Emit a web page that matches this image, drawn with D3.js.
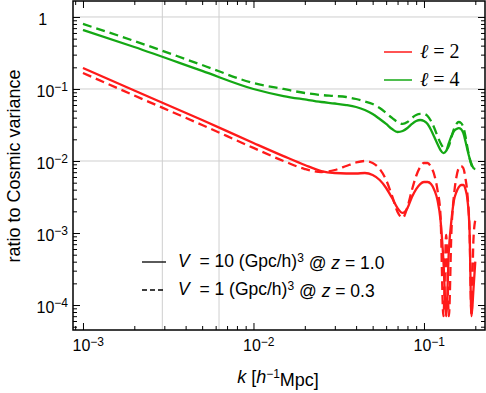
<!DOCTYPE html>
<html>
<head>
<meta charset="utf-8">
<script src="https://cdn.jsdelivr.net/npm/d3@7"></script>
<style>
  body { margin: 0; background: #fff; }
  svg { display: block; font-family: "Liberation Sans", Arial, sans-serif; }
  .axis path.domain { display: none; }
  .axis line { stroke: #000; stroke-width: 1; }
</style>
</head>
<body>
<svg width="486" height="393"></svg>
<script>
// wavenumbers k [h/Mpc]
var kVals = [0.001, 0.002, 0.005, 0.01, 0.015, 0.02, 0.025, 0.03, 0.035, 0.04,
  0.045, 0.05, 0.055, 0.06, 0.065, 0.07, 0.075, 0.08, 0.085, 0.09, 0.095, 0.1,
  0.105, 0.11, 0.115, 0.12, 0.125, 0.13, 0.135, 0.14, 0.145, 0.15, 0.155, 0.16,
  0.165, 0.17, 0.175, 0.18, 0.185, 0.19, 0.195, 0.2];

// l = 2, V = 10 (Gpc/h)^3 @ z = 1.0
var redSolid = [0.1957, 0.0953, 0.0371, 0.0178, 0.0117, 0.0088, 0.00726, 0.00681,
  0.00671, 0.00671, 0.00681, 0.00639, 0.00545, 0.00422, 0.00306, 0.00222, 0.0019,
  0.00222, 0.00316, 0.00408, 0.00479, 0.00511, 0.00511, 0.00479, 0.00396, 0.00287,
  0.00152, 0.00042, 0.00007, 0.00058, 0.00152, 0.00287, 0.00371, 0.00435, 0.00464,
  0.00464, 0.00408, 0.00287, 0.0011, 0.00007, 0.000162, 0.0004];
// l = 2, V = 1 (Gpc/h)^3 @ z = 0.3
var redDashed = [0.1668, 0.0812, 0.0316, 0.0152, 0.01, 0.00774, 0.00703, 0.0075,
  0.00852, 0.00953, 0.01, 0.00938, 0.00774, 0.00545, 0.00327, 0.00196, 0.00162,
  0.0023, 0.00396, 0.00619, 0.00825, 0.00938, 0.00938, 0.00825, 0.00639, 0.00396,
  0.00178, 0.00007, 0.00094, 0.00007, 0.0011, 0.00337, 0.00599, 0.00799, 0.00852,
  0.00799, 0.00581, 0.00337, 0.0011, 0.00007, 0.0008, 0.00152];
// l = 4, V = 10 (Gpc/h)^3 @ z = 1.0
var greenSolid = [0.66, 0.383, 0.1783, 0.1, 0.0799, 0.0715, 0.066, 0.0629, 0.0599,
  0.0562, 0.0511, 0.045, 0.0383, 0.0327, 0.0278, 0.0253, 0.0261, 0.0287, 0.0327,
  0.0359, 0.0371, 0.0359, 0.0327, 0.027, 0.0215, 0.0172, 0.0142, 0.0129, 0.0138,
  0.0178, 0.0222, 0.0261, 0.0278, 0.0287, 0.0278, 0.0245, 0.019, 0.0142, 0.011,
  0.00909, 0.00799, 0.00774];
// l = 4, V = 1 (Gpc/h)^3 @ z = 0.3
var greenDashed = [0.8, 0.464, 0.2154, 0.1211, 0.1, 0.088, 0.0825, 0.0799, 0.0774,
  0.0726, 0.0671, 0.0619, 0.0545, 0.0464, 0.0396, 0.0348, 0.0327, 0.0348, 0.0396,
  0.0435, 0.045, 0.045, 0.0422, 0.0359, 0.0287, 0.0222, 0.0178, 0.0152, 0.0142,
  0.0162, 0.0215, 0.0278, 0.0327, 0.0348, 0.0337, 0.0297, 0.0222, 0.0152, 0.011,
  0.0088, 0.00799, 0.0077];

var xMajor = [0.001, 0.01, 0.1];
var xExp = [-3, -2, -1];
var yMajor = [1, 0.1, 0.01, 0.001, 0.0001];
var yExp = [0, -1, -2, -3, -4];
// fundamental modes 2pi/L of the two survey volumes
var gridK = [0.00292, 0.00628];
var gridR = [1, 0.1, 0.01];

var RED = "#ff1a1a", GREEN = "#14a814";

var series = [
  {values: greenDashed, color: GREEN, dash: "9,5"},
  {values: greenSolid, color: GREEN, dash: null},
  {values: redDashed, color: RED, dash: "9,5"},
  {values: redSolid, color: RED, dash: null}
];

var mL = 73, mR = 485, mT = 1, mB = 330;

var svg = d3.select("svg");

var x = d3.scaleLog().domain([0.000874, 0.228]).range([mL, mR]);
var y = d3.scaleLog().domain([1.667, 4.5e-5]).range([mT, mB]);

function minors(lo, hi) {
  var out = [];
  for (var e = lo; e <= hi; e++)
    for (var m = 2; m <= 9; m++) out.push(m * Math.pow(10, e));
  return out;
}
var xMinor = minors(-4, -1).filter(v => v > 0.000874 && v < 0.228);
var yMinor = minors(-5, 0).filter(v => v > 4.5e-5 && v < 1.667);

svg.append("clipPath").attr("id", "clip")
  .append("rect").attr("x", mL).attr("y", mT)
  .attr("width", mR - mL).attr("height", mB - mT);

// grid
var grid = svg.append("g").attr("stroke", "#cfcfcf").attr("stroke-width", 1);
grid.selectAll(".gx").data(gridK).enter().append("line")
  .attr("x1", d => x(d)).attr("x2", d => x(d))
  .attr("y1", mT).attr("y2", mB);
grid.selectAll(".gy").data(gridR).enter().append("line")
  .attr("x1", mL).attr("x2", mR)
  .attr("y1", d => y(d)).attr("y2", d => y(d));

// curves
var line = d3.line()
  .x((d, i) => x(kVals[i]))
  .y(d => y(d))
  .curve(d3.curveMonotoneX);

svg.append("g").attr("clip-path", "url(#clip)")
  .selectAll("path").data(series).enter().append("path")
  .attr("d", d => line(d.values))
  .attr("fill", "none")
  .attr("stroke", d => d.color)
  .attr("stroke-width", 2.3)
  .attr("stroke-dasharray", d => d.dash);

// axes, ticks pointing inward
function sup(sel, exps) {
  sel.selectAll("text").each(function(d, i) {
    var t = d3.select(this).text(null);
    var e = exps[i];
    if (e === 0) { t.text("1"); return; }
    t.append("tspan").text("10");
    t.append("tspan").attr("dy", "-0.45em").attr("font-size", "12px").text("\u2212" + (-e));
  });
}

var gx = svg.append("g").attr("class", "axis").attr("transform", "translate(0," + mB + ")")
  .call(d3.axisBottom(x).tickValues(xMajor).tickSize(-7).tickPadding(10));
gx.selectAll("text").attr("font-size", "16px").attr("font-family", "Liberation Sans, Arial, sans-serif");
sup(gx, xExp);
gx.selectAll("text").attr("dx", "0.3em");
svg.append("g").attr("class", "axis").attr("transform", "translate(0," + mB + ")")
  .call(d3.axisBottom(x).tickValues(xMinor).tickSize(-4).tickFormat(""));
svg.append("g").attr("class", "axis").attr("transform", "translate(0," + mT + ")")
  .call(d3.axisTop(x).tickValues(xMajor).tickSize(-7).tickFormat(""));
svg.append("g").attr("class", "axis").attr("transform", "translate(0," + mT + ")")
  .call(d3.axisTop(x).tickValues(xMinor).tickSize(-4).tickFormat(""));

var gy = svg.append("g").attr("class", "axis").attr("transform", "translate(" + mL + ",0)")
  .call(d3.axisLeft(y).tickValues(yMajor).tickSize(-7).tickPadding(5));
gy.selectAll("text").attr("font-size", "16px").attr("font-family", "Liberation Sans, Arial, sans-serif");
sup(gy, yExp);
gy.selectAll("text").attr("dy", "0.45em");
gy.selectAll("text").filter((d, i) => yExp[i] === 0).attr("dx", "-1.3em");
svg.append("g").attr("class", "axis").attr("transform", "translate(" + mL + ",0)")
  .call(d3.axisLeft(y).tickValues(yMinor).tickSize(-4).tickFormat(""));
svg.append("g").attr("class", "axis").attr("transform", "translate(" + mR + ",0)")
  .call(d3.axisRight(y).tickValues(yMajor).tickSize(-7).tickFormat(""));
svg.append("g").attr("class", "axis").attr("transform", "translate(" + mR + ",0)")
  .call(d3.axisRight(y).tickValues(yMinor).tickSize(-4).tickFormat(""));

// frame
svg.append("rect").attr("x", mL).attr("y", mT)
  .attr("width", mR - mL).attr("height", mB - mT)
  .attr("fill", "none").attr("stroke", "#000").attr("stroke-width", 1.5);

// axis titles
var xt = svg.append("text").attr("x", 278).attr("y", 383)
  .attr("text-anchor", "middle").attr("font-size", "18px");
xt.append("tspan").attr("font-style", "italic").text("k");
xt.append("tspan").text(" [");
xt.append("tspan").attr("font-style", "italic").text("h");
xt.append("tspan").attr("dy", "-0.45em").attr("font-size", "12px").text("\u22121");
xt.append("tspan").attr("dy", "0.45em").text("Mpc]");

svg.append("text").attr("transform", "translate(20,166) rotate(-90)")
  .attr("text-anchor", "middle").attr("font-size", "18px")
  .text("ratio to Cosmic variance");

// multipole legend
var ellLegend = [{label: "2", color: RED}, {label: "4", color: GREEN}];
var lg = svg.append("g");
ellLegend.forEach(function(d, i) {
  var yy = 52 + i * 28;
  lg.append("line").attr("x1", 384).attr("x2", 412).attr("y1", yy).attr("y2", yy)
    .attr("stroke", d.color).attr("stroke-width", 1.5);
  var t = lg.append("text").attr("x", 420).attr("y", yy + 6)
    .attr("font-family", "Liberation Serif, serif").attr("font-size", "20px");
  t.append("tspan").attr("font-style", "italic").text("\u2113");
  t.append("tspan").text(" = " + d.label);
});

// volume legend
var volLegend = [
  {vol: "10", z: "1.0", dash: null},
  {vol: "1", z: "0.3", dash: "5,3"}
];
volLegend.forEach(function(d, i) {
  var yy = 262 + i * 28;
  lg.append("line").attr("x1", 142).attr("x2", 166).attr("y1", yy).attr("y2", yy)
    .attr("stroke", "#000").attr("stroke-width", 1.3).attr("stroke-dasharray", d.dash);
  var t = lg.append("text").attr("x", 178).attr("y", yy + 5).attr("font-size", "17.5px");
  t.append("tspan").attr("font-style", "italic").text("V");
  t.append("tspan").text("\u00a0 = " + d.vol + " (Gpc/h)");
  t.append("tspan").attr("dy", "-0.45em").attr("font-size", "12px").text("3");
  t.append("tspan").attr("dy", "0.45em").text(" @ ");
  t.append("tspan").attr("font-style", "italic").text("z");
  t.append("tspan").text(" = " + d.z);
});
</script>
</body>
</html>
